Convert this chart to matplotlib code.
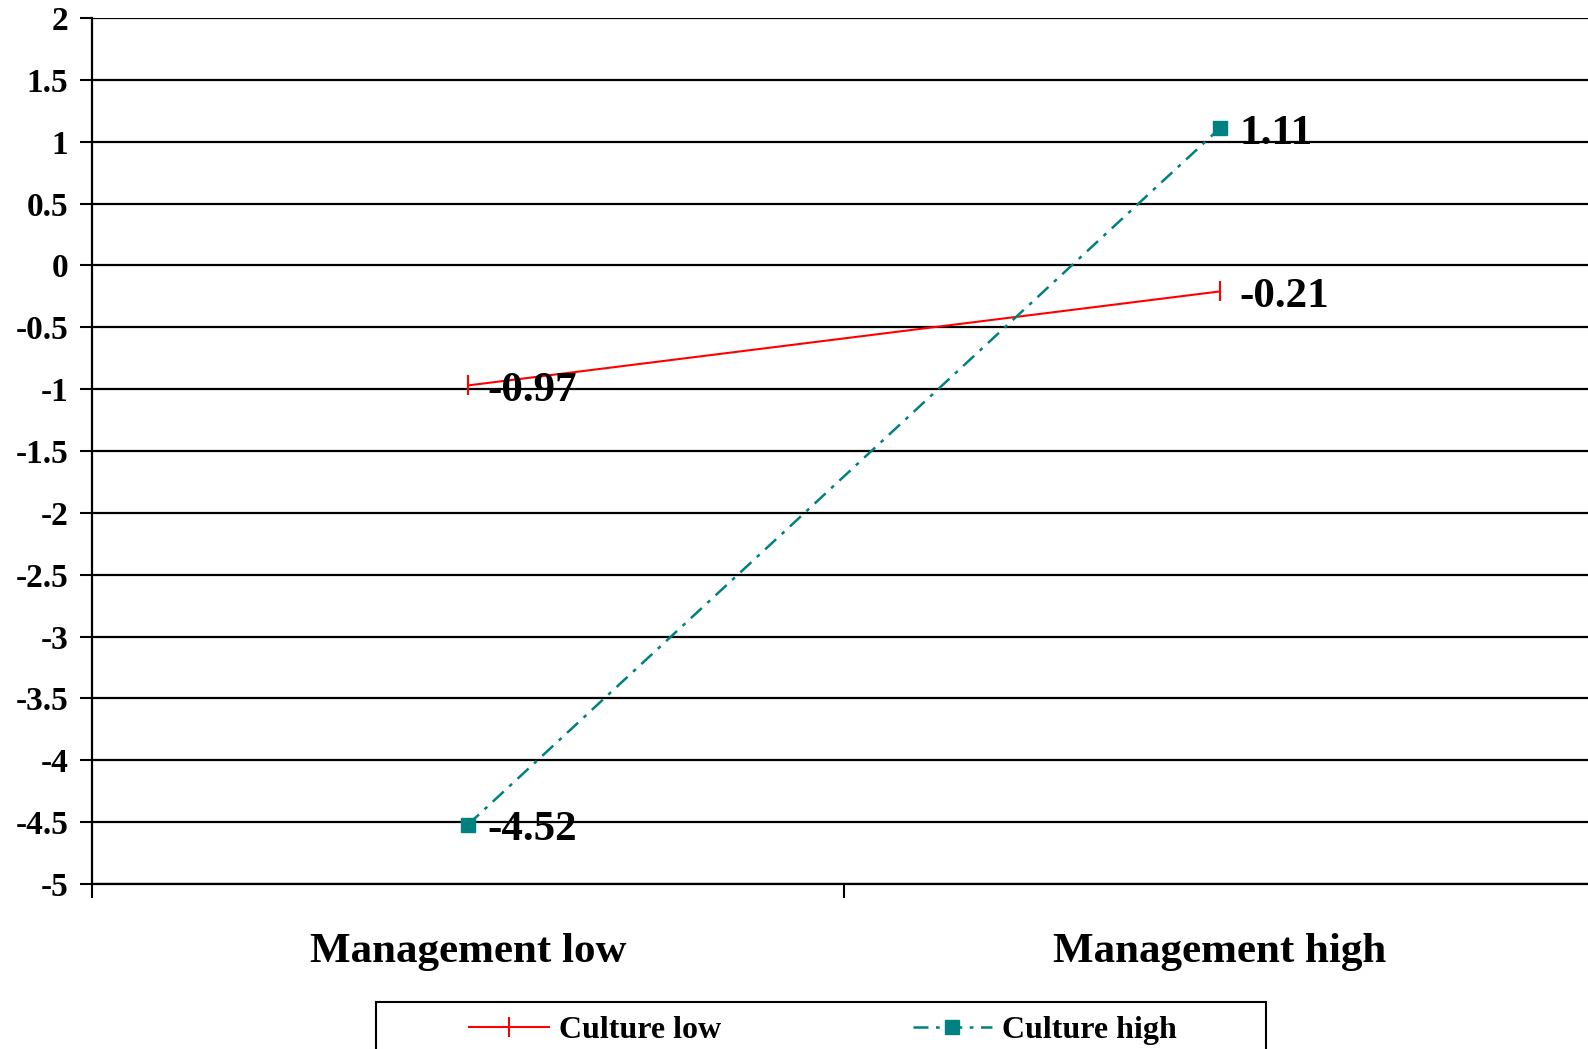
import matplotlib
matplotlib.use("Agg")
import matplotlib.pyplot as plt
from matplotlib.patches import Rectangle

categories = ["Management low", "Management high"]
culture_low = [-0.97, -0.21]
culture_high = [-4.52, 1.11]
series_names = ["Culture low", "Culture high"]
y_ticks = [2, 1.5, 1, 0.5, 0, -0.5, -1, -1.5, -2, -2.5, -3, -3.5, -4, -4.5, -5]

plt.rcParams["font.family"] = ["Liberation Serif", "DejaVu Serif"]
plt.rcParams["font.weight"] = "bold"

W, H = 1588, 1049
fig = plt.figure(figsize=(W / 100, H / 100), dpi=100)
ax = fig.add_axes([92 / W, 1 - 884 / H, (1596 - 92) / W, (884 - 18) / H])

xs = [0.5, 1.5]
ax.plot(xs, culture_low, color="red", lw=1.5, marker="|", ms=14, mew=1.5,
        label=series_names[0])
ax.plot(xs, culture_high, color="#008080", lw=1.8, ls=(0, (6, 3, 1.5, 3)),
        marker="s", ms=10, label=series_names[1])

for series in (culture_low, culture_high):
    for x, v in zip(xs, series):
        ax.annotate(f"{v:.2f}", (x, v), xytext=(14, -4), textcoords="offset points",
                    ha="left", va="center", fontsize=31, fontweight="bold")

ax.set_xlim(0, 2)
ax.set_ylim(-5, 2)
ax.set_yticks(y_ticks)
ax.set_yticklabels([f"{t:g}" for t in y_ticks], fontsize=24, fontweight="bold")
ax.yaxis.grid(True, color="black", lw=1.6)
ax.set_axisbelow(True)

ax.set_xticks([0, 1, 2])
ax.set_xticklabels([])
ax.set_xticks(xs, minor=True)
ax.set_xticklabels(categories, minor=True, fontsize=31, fontweight="bold")
ax.tick_params(axis="x", which="minor", length=0, pad=35)
ax.tick_params(axis="x", which="major", length=10, width=1.5, direction="out")
ax.tick_params(axis="y", length=9, width=1.5, direction="out", pad=8)

for s in ("top", "right"):
    ax.spines[s].set_visible(False)
for s in ("left", "bottom"):
    ax.spines[s].set_linewidth(1.6)

# legend box runs off the bottom edge, like the original
fig.patches.append(Rectangle((376 / W, -0.05), (1266 - 376) / W, 0.05 + 47 / H,
                             transform=fig.transFigure, fill=False,
                             edgecolor="black", lw=1.5))
fig.legend(loc="center", bbox_to_anchor=(823 / W, 1 - 1030 / H), ncol=2,
           fontsize=23, frameon=False, handlelength=2.5, handletextpad=0.3,
           columnspacing=6.0)

fig.savefig("out.png", dpi=100)
